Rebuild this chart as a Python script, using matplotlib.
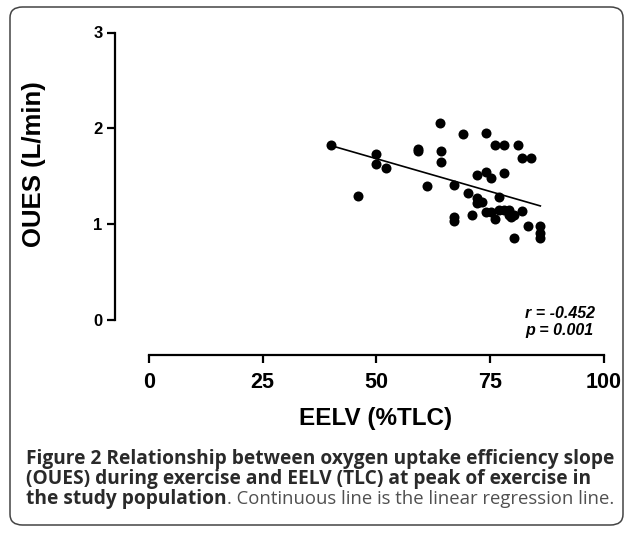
import numpy as np
import matplotlib
matplotlib.use('Agg')
import matplotlib.pyplot as plt
from matplotlib.patches import FancyBboxPatch

# EELV (%TLC) and OUES (L/min)
eelv = [40.0, 64.0, 69.1, 74.2, 76.2, 78.2, 81.2, 82.1, 84.1, 50.0,
        50.0, 52.1, 59.1, 59.1, 64.2, 64.2, 45.9, 61.1, 67.1, 67.1,
        67.1, 70.1, 72.1, 74.2, 75.2, 78.2, 72.1, 72.5, 73.2, 72.1,
        77.1, 71.1, 74.2, 75.2, 76.2, 77.1, 78.2, 79.1, 79.1, 80.2,
        79.7, 82.1, 83.3, 80.2, 86.1, 86.1, 86.1]
oues = [1.83, 2.06, 1.94, 1.95, 1.83, 1.83, 1.83, 1.69, 1.69, 1.73,
        1.63, 1.59, 1.78, 1.76, 1.76, 1.65, 1.29, 1.40, 1.41, 1.07,
        1.03, 1.33, 1.51, 1.54, 1.48, 1.53, 1.27, 1.23, 1.23, 1.22,
        1.28, 1.10, 1.13, 1.13, 1.05, 1.15, 1.15, 1.15, 1.10, 1.10,
        1.08, 1.14, 0.98, 0.86, 0.98, 0.91, 0.86]
x_ticks = [0, 25, 50, 75, 100]
y_ticks = [0, 1, 2, 3]
stats_text = ['r = -0.452', 'p = 0.001']

W, H = 627, 535
fig = plt.figure(figsize=(W / 100, H / 100), dpi=100)

def fx(px):
    return px / W

def fy(py):
    return 1 - py / H

# axes box: left spine at x=115px, x=100 at 603px, y=3 at 32.5px, x spine at 355px
ax = fig.add_axes([fx(115), fy(355), fx(603.5) - fx(115), fy(32.5) - fy(355)])
ax.set_xlim(-7.49, 100)
ax.set_ylim(-0.365, 3)

ax.scatter(eelv, oues, s=52, color='black', zorder=3, linewidths=0)
slope, icpt = np.polyfit(eelv, oues, 1)
xl = np.array([min(eelv), max(eelv)])
ax.plot(xl, slope * xl + icpt, color='black', lw=1.2)

for s in ['top', 'right']:
    ax.spines[s].set_visible(False)
ax.spines['left'].set_bounds(0, 3)
ax.spines['bottom'].set_bounds(0, 100)
ax.spines['left'].set_linewidth(1.6)
ax.spines['bottom'].set_linewidth(1.6)

ax.set_xticks(x_ticks)
ax.set_yticks(y_ticks)
ax.tick_params(axis='both', direction='out', length=6, width=1.6, color='black')
ax.tick_params(axis='x', labelsize=15.5, pad=6)
ax.tick_params(axis='y', labelsize=12, pad=3)
for lab in ax.get_xticklabels() + ax.get_yticklabels():
    lab.set_fontfamily('Liberation Sans')
    lab.set_fontweight('bold')

# axis titles (x title centred under the x spine, not the axes box)
fig.text(fx(376), fy(418), 'EELV (%TLC)', fontsize=17.5, fontweight='bold',
         family='Liberation Sans', ha='center', va='center')
fig.text(fx(34), fy(164), 'OUES (L/min)', rotation=90, fontsize=18.5,
         fontweight='bold', family='Liberation Sans', ha='center', va='center')

fig.text(fx(525), fy(314), stats_text[0], fontsize=11.5, fontweight='bold',
         style='italic', family='Liberation Sans', ha='left', va='center')
fig.text(fx(525), fy(330), stats_text[1], fontsize=11.5, fontweight='bold',
         style='italic', family='Liberation Sans', ha='left', va='center')

# frame round the whole figure
box = FancyBboxPatch((fx(10), fy(525)), fx(623) - fx(10), fy(7) - fy(525),
                     boxstyle='round,pad=0,rounding_size=0.02',
                     transform=fig.transFigure, fill=False,
                     edgecolor='#444444', lw=1.1)
fig.add_artist(box)

# caption
cap_kw = dict(family='Open Sans', va='center', ha='left')
fig.text(fx(26), fy(459), 'Figure 2 Relationship between oxygen uptake efficiency slope',
         fontsize=13.8, fontweight='bold', color='#2a2a2a', **cap_kw)
fig.text(fx(26), fy(479), '(OUES) during exercise and EELV (TLC) at peak of exercise in',
         fontsize=13.8, fontweight='bold', color='#2a2a2a', **cap_kw)
t1 = fig.text(fx(26), fy(499), 'the study population', fontsize=13.8,
              fontweight='bold', color='#2a2a2a', **cap_kw)
fig.canvas.draw()
bb = t1.get_window_extent()
fig.text(bb.x1 / W, fy(499), '. Continuous line is the linear regression line.',
         fontsize=13.3, color='#505050', **cap_kw)

fig.savefig('out.png', dpi=100)
